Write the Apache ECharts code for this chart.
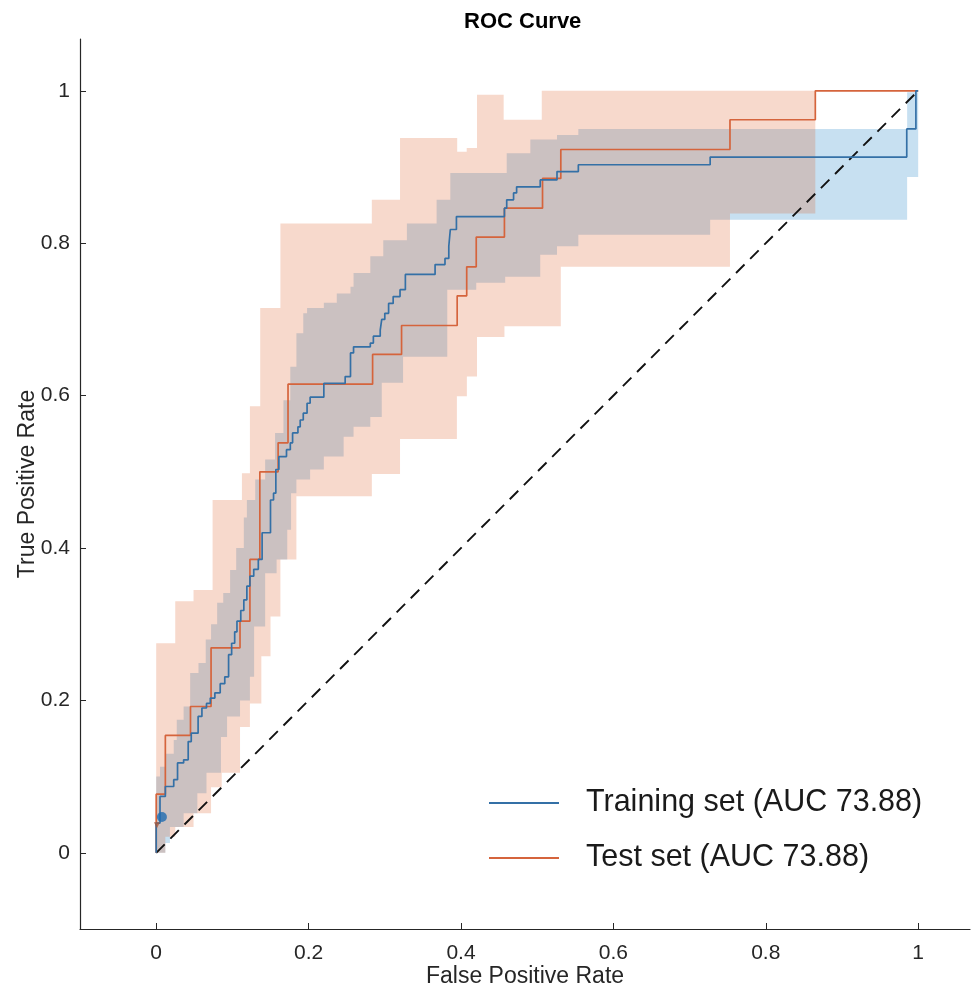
<!DOCTYPE html>
<html>
<head>
<meta charset="utf-8">
<script src="https://cdn.jsdelivr.net/npm/echarts@6/dist/echarts.min.js"></script>
<style>
html, body { margin: 0; padding: 0; background: #ffffff; }
#chart { width: 977px; height: 993px; }
</style>
</head>
<body>
<div id="chart"></div>
<script>
// ---------------- data ----------------
const tickValues = [0, 0.2, 0.4, 0.6, 0.8, 1];
const seriesNames = ['Training set (AUC 73.88)', 'Test set (AUC 73.88)'];

// ROC curves: FPR at which each vertical step occurs, and TPR reached after it
const trainStepFPR = [0, 0.005, 0.012, 0.023, 0.028, 0.036, 0.042, 0.046, 0.055, 0.060, 0.066, 0.071, 0.077, 0.084, 0.090, 0.095, 0.099, 0.103, 0.106, 0.111, 0.115, 0.119, 0.123, 0.128, 0.134, 0.139, 0.150, 0.154, 0.157, 0.161, 0.171, 0.176, 0.179, 0.186, 0.189, 0.193, 0.198, 0.202, 0.220, 0.248, 0.255, 0.259, 0.281, 0.285, 0.294, 0.296, 0.300, 0.305, 0.311, 0.320, 0.327, 0.366, 0.379, 0.384, 0.386, 0.394, 0.457, 0.460, 0.469, 0.473, 0.504, 0.526, 0.554, 0.727, 0.985, 0.997];
const trainStepTPR = [0.039, 0.074, 0.087, 0.096, 0.118, 0.122, 0.146, 0.157, 0.179, 0.190, 0.196, 0.203, 0.210, 0.222, 0.231, 0.260, 0.275, 0.290, 0.304, 0.318, 0.332, 0.350, 0.363, 0.372, 0.385, 0.420, 0.463, 0.472, 0.503, 0.520, 0.529, 0.538, 0.551, 0.559, 0.568, 0.577, 0.590, 0.598, 0.616, 0.625, 0.656, 0.664, 0.669, 0.678, 0.686, 0.700, 0.708, 0.721, 0.730, 0.739, 0.759, 0.772, 0.780, 0.796, 0.818, 0.835, 0.846, 0.857, 0.866, 0.874, 0.883, 0.894, 0.903, 0.913, 0.950, 1.0];

const testStepFPR = [0, 0.012, 0.045, 0.072, 0.110, 0.123, 0.136, 0.160, 0.173, 0.284, 0.322, 0.395, 0.4075, 0.420, 0.457, 0.507, 0.531, 0.753, 0.865];
const testStepTPR = [0.077, 0.154, 0.192, 0.269, 0.304, 0.385, 0.500, 0.538, 0.615, 0.654, 0.692, 0.731, 0.769, 0.808, 0.846, 0.885, 0.923, 0.962, 1.0];

// Confidence bands: breakpoints (FPR) and bound value on each interval
const trainUpperFPR = [0, 0.005, 0.012, 0.023, 0.027, 0.036, 0.0446, 0.0555, 0.065, 0.072, 0.080, 0.088, 0.097, 0.105, 0.115, 0.119, 0.130, 0.143, 0.156, 0.167, 0.176, 0.184, 0.193, 0.198, 0.220, 0.237, 0.255, 0.259, 0.281, 0.298, 0.329, 0.368, 0.386, 0.460, 0.491, 0.526, 0.554, 0.9855, 1.0];
const trainUpperTPR = [0.10, 0.113, 0.13, 0.148, 0.1745, 0.192, 0.236, 0.249, 0.28, 0.30, 0.328, 0.341, 0.371, 0.40, 0.44, 0.463, 0.49, 0.516, 0.551, 0.594, 0.638, 0.682, 0.708, 0.715, 0.722, 0.734, 0.743, 0.761, 0.783, 0.804, 0.826, 0.857, 0.892, 0.918, 0.936, 0.942, 0.95, 0.998];
const trainLowerFPR = [0, 0.012, 0.018, 0.036, 0.054, 0.066, 0.085, 0.093, 0.110, 0.123, 0.1285, 0.143, 0.158, 0.172, 0.177, 0.184, 0.202, 0.220, 0.246, 0.259, 0.281, 0.296, 0.324, 0.382, 0.420, 0.458, 0.504, 0.526, 0.554, 0.727, 0.9855, 1.0];
const trainLowerTPR = [0, 0.013, 0.034, 0.052, 0.078, 0.105, 0.152, 0.179, 0.20, 0.231, 0.297, 0.367, 0.385, 0.424, 0.472, 0.49, 0.503, 0.52, 0.546, 0.559, 0.572, 0.617, 0.651, 0.739, 0.748, 0.756, 0.785, 0.796, 0.811, 0.8307, 0.887];

const testUpperFPR = [0, 0.025, 0.049, 0.074, 0.1125, 0.123, 0.1365, 0.163, 0.283, 0.320, 0.395, 0.4075, 0.421, 0.456, 0.506, 0.865];
const testUpperTPR = [0.275, 0.330, 0.345, 0.463, 0.498, 0.586, 0.715, 0.826, 0.857, 0.938, 0.920, 0.925, 0.995, 0.962, 1.0];
const testLowerFPR = [0, 0.012, 0.025, 0.049, 0.072, 0.086, 0.110, 0.123, 0.138, 0.150, 0.163, 0.184, 0.283, 0.320, 0.3946, 0.4077, 0.421, 0.457, 0.531, 0.753, 0.865];
const testLowerTPR = [0, 0.021, 0.034, 0.052, 0.086, 0.105, 0.165, 0.196, 0.258, 0.310, 0.385, 0.468, 0.497, 0.543, 0.599, 0.625, 0.677, 0.691, 0.769, 0.839];

// Operating points and chance line
const trainPoint = [0.0075, 0.047];
const testPoint = [0.001, 0.036];
const chanceFPR = [0, 1];
const chanceTPR = [0, 1];

// ---------------- helpers ----------------
function rocCorners(xs, ys) {
  const pts = [[0, 0]];
  let prev = 0;
  for (let i = 0; i < xs.length; i++) {
    pts.push([xs[i], prev]);
    pts.push([xs[i], ys[i]]);
    prev = ys[i];
  }
  pts.push([1, prev]);
  return pts;
}
function bandPolygon(ux, uy, lx, ly) {
  const pts = [];
  for (let i = 0; i < uy.length; i++) { pts.push([ux[i], uy[i]], [ux[i + 1], uy[i]]); }
  for (let i = ly.length - 1; i >= 0; i--) { pts.push([lx[i + 1], ly[i]], [lx[i], ly[i]]); }
  return pts;
}
function bandSeries(poly, fill, z) {
  return {
    type: 'custom', coordinateSystem: 'cartesian2d', silent: true, z: z,
    data: [[0, 0]], clip: true,
    renderItem: function (params, api) {
      return {
        type: 'polygon',
        shape: { points: poly.map(function (p) { return api.coord(p); }) },
        style: { fill: fill, stroke: null }
      };
    }
  };
}

const FONT = '"Liberation Sans", Arial, Helvetica, sans-serif';
const AXIS_COLOR = '#262626';
const BLUE = '#3470a6';
const ORANGE = '#d5643c';

function axisCommon(name, gap, labelMargin) {
  return {
    type: 'value', min: -0.1, max: 1.068,
    name: name, nameLocation: 'middle', nameGap: gap, nameMoveOverlap: false,
    nameTextStyle: { fontSize: 23, color: AXIS_COLOR, fontFamily: FONT },
    axisLine: { show: true, onZero: false, lineStyle: { color: AXIS_COLOR, width: 1.2 } },
    axisTick: { show: true, inside: true, length: 6, customValues: tickValues, lineStyle: { color: AXIS_COLOR, width: 1 } },
    axisLabel: { show: true, customValues: tickValues, fontSize: 21, color: AXIS_COLOR, fontFamily: FONT, margin: labelMargin },
    splitLine: { show: false }
  };
}

const chart = echarts.init(document.getElementById('chart'), null, { renderer: 'canvas' });
chart.setOption({
  animation: false,
  backgroundColor: '#ffffff',
  title: {
    text: 'ROC Curve', left: 464, top: 11, padding: 0,
    textStyle: { fontSize: 22, fontWeight: 'bold', color: '#000000', fontFamily: FONT }
  },
  legend: {
    orient: 'vertical', left: 484, top: 780,
    itemWidth: 70, itemHeight: 2, itemGap: 19,
    icon: 'rect',
    selectedMode: false,
    data: seriesNames,
    textStyle: { fontSize: 30.5, color: '#1a1a1a', fontFamily: FONT, lineHeight: 36, padding: [0, 0, 0, 22] }
  },
  grid: { left: 80, right: 7, top: 39, bottom: 64, containLabel: false, outerBoundsMode: 'none' },
  xAxis: axisCommon('False Positive Rate', 36, 14),
  yAxis: axisCommon('True Positive Rate', 41, 10),
  series: [
    bandSeries(bandPolygon(trainUpperFPR, trainUpperTPR, trainLowerFPR, trainLowerTPR), 'rgba(0,114,189,0.22)', 1),
    bandSeries(bandPolygon(testUpperFPR, testUpperTPR, testLowerFPR, testLowerTPR), 'rgba(217,83,25,0.22)', 1),
    {
      type: 'line', silent: true, z: 2, symbol: 'none', showSymbol: false,
      data: chanceFPR.map(function (x, i) { return [x, chanceTPR[i]]; }),
      lineStyle: { color: '#111111', width: 1.9, type: [12, 8] }
    },
    {
      name: seriesNames[1], type: 'line', z: 3, symbol: 'none', showSymbol: false,
      data: rocCorners(testStepFPR, testStepTPR),
      lineStyle: { color: ORANGE, width: 1.7 }, itemStyle: { color: ORANGE }
    },
    {
      name: seriesNames[0], type: 'line', z: 4, symbol: 'none', showSymbol: false,
      data: rocCorners(trainStepFPR, trainStepTPR),
      lineStyle: { color: BLUE, width: 1.7 }, itemStyle: { color: BLUE }
    },
    {
      type: 'scatter', z: 5, silent: true, symbol: 'triangle', symbolRotate: 180, symbolSize: 6,
      data: [testPoint], itemStyle: { color: '#a8583a' }
    },
    {
      type: 'scatter', z: 6, silent: true, symbol: 'circle', symbolSize: 10,
      data: [trainPoint], itemStyle: { color: '#1f6cb0' }
    }
  ]
});
</script>
</body>
</html>
